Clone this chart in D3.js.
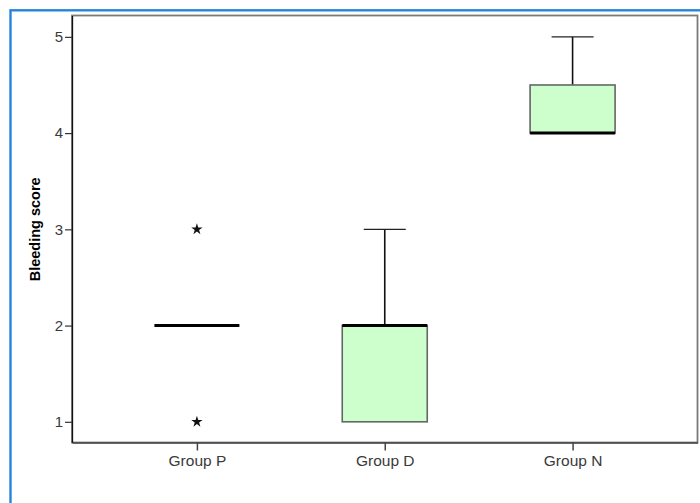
<!DOCTYPE html>
<html><head><meta charset="utf-8">
<script src="https://cdn.jsdelivr.net/npm/d3@7"></script>
<style>html,body{margin:0;padding:0;background:#fff;}svg{display:block;}</style>
</head><body>
<svg id="c" width="700" height="503"></svg>
<script>
const categories = ["Group P", "Group D", "Group N"];
const whiskerLow = [2, 1, 4];
const q1 = [2, 1, 4];
const median = [2, 2, 4];
const q3 = [2, 2, 4.5];
const whiskerHigh = [2, 3, 5];
const outliers = [[1, 3], [], []];
const yTicks = [1, 2, 3, 4, 5];
const yLabel = "Bleeding score";

const svg = d3.select("#c");
const L = 72, R = 697.5, T = 15.5, B = 442.5;
const font = "'Liberation Sans', Arial, sans-serif";

// outer blue border
svg.append("rect").attr("x", 10.5).attr("y", 10.3).attr("width", 720).attr("height", 520)
  .attr("fill", "none").attr("stroke", "#2585dc").attr("stroke-width", 2.4);

const x = d3.scalePoint().domain(categories).range([L, R]).padding(0.665);
const y = d3.scaleLinear().domain([0.785, 5.222]).range([B, T]);

// frame
svg.append("rect").attr("x", L).attr("y", T).attr("width", R - L).attr("height", B - T)
  .attr("fill", "none").attr("stroke", "#7a7a7a").attr("stroke-width", 1.8);

// axes
const yAxis = svg.append("g").attr("transform", `translate(${L},0)`)
  .call(d3.axisLeft(y).tickValues(yTicks).tickFormat(d3.format("d")).tickSize(7).tickSizeOuter(0).tickPadding(2));
yAxis.select(".domain").attr("stroke", "#111").attr("stroke-width", 1.3);
yAxis.selectAll(".tick line").attr("stroke", "#333").attr("stroke-width", 1.2);
yAxis.selectAll(".tick text").attr("font-family", font).attr("font-size", 15).attr("fill", "#3a3a3a");

const xAxis = svg.append("g").attr("transform", `translate(0,${B})`)
  .call(d3.axisBottom(x).tickSize(8).tickSizeOuter(0).tickPadding(4));
xAxis.select(".domain").attr("stroke", "#444").attr("stroke-width", 1.6);
xAxis.selectAll(".tick line").attr("stroke", "#444").attr("stroke-width", 1.5);
xAxis.selectAll(".tick text").attr("font-family", font).attr("font-size", 15.5).attr("fill", "#3a3a3a");

// y label
svg.append("text").attr("transform", `translate(40,${(y(1) + y(5)) / 2}) rotate(-90)`)
  .attr("text-anchor", "middle").attr("font-family", font).attr("font-size", 14.5)
  .attr("font-weight", "bold").attr("fill", "#000").text(yLabel);

const boxW = 85, capW = 42;
const g = svg.append("g");
categories.forEach((c, i) => {
  const cx = x(c);
  // whiskers
  if (whiskerHigh[i] > q3[i]) {
    g.append("line").attr("x1", cx).attr("x2", cx).attr("y1", y(q3[i])).attr("y2", y(whiskerHigh[i]))
      .attr("stroke", "#111").attr("stroke-width", 1.6);
    g.append("line").attr("x1", cx - capW / 2).attr("x2", cx + capW / 2).attr("y1", y(whiskerHigh[i])).attr("y2", y(whiskerHigh[i]))
      .attr("stroke", "#222").attr("stroke-width", 1.4);
  }
  if (whiskerLow[i] < q1[i]) {
    g.append("line").attr("x1", cx).attr("x2", cx).attr("y1", y(q1[i])).attr("y2", y(whiskerLow[i]))
      .attr("stroke", "#111").attr("stroke-width", 1.6);
    g.append("line").attr("x1", cx - capW / 2).attr("x2", cx + capW / 2).attr("y1", y(whiskerLow[i])).attr("y2", y(whiskerLow[i]))
      .attr("stroke", "#222").attr("stroke-width", 1.4);
  }
  // box
  if (q3[i] > q1[i]) {
    g.append("rect").attr("x", cx - boxW / 2).attr("width", boxW)
      .attr("y", y(q3[i])).attr("height", y(q1[i]) - y(q3[i]))
      .attr("fill", "#ccffcc").attr("stroke", "#666").attr("stroke-width", 1.6);
  }
  // median
  g.append("line").attr("x1", cx - boxW / 2).attr("x2", cx + boxW / 2).attr("y1", y(median[i])).attr("y2", y(median[i]))
    .attr("stroke", "#000").attr("stroke-width", 3);
  // outliers
  outliers[i].forEach(v => {
    g.append("path").attr("d", d3.symbol(d3.symbolStar, 40)())
      .attr("transform", `translate(${cx},${y(v)})`).attr("fill", "#111");
  });
});
</script>
</body></html>
